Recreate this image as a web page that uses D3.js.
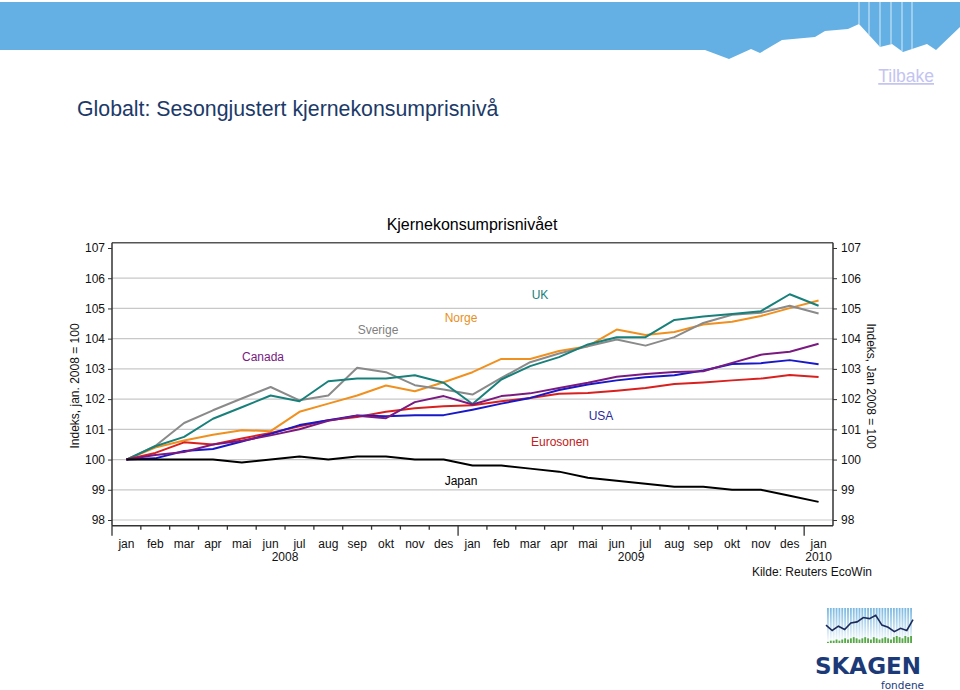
<!DOCTYPE html>
<html>
<head>
<meta charset="utf-8">
<script src="https://cdn.jsdelivr.net/npm/d3@7"></script>
<style>
  body { margin: 0; background: #fff; }
  svg { font-family: "Liberation Sans", Arial, sans-serif; }
</style>
</head>
<body>
<div id="chart"></div>
<script>
// month labels, jan 2008 .. jan 2010
const monthNames = ["jan","feb","mar","apr","mai","jun","jul","aug","sep","okt","nov","des"];
const months = monthNames.concat(monthNames, ["jan"]);
const years = [{label: "2008", at: 5.5}, {label: "2009", at: 17.5}, {label: "2010", at: 24}];
const yTicks = [98, 99, 100, 101, 102, 103, 104, 105, 106, 107];

// index, jan 2008 = 100
const japan     = [100,100,100,100,99.9,100,100.1,100,100.1,100.1,100,100,99.8,99.8,99.7,99.6,99.4,99.3,99.2,99.1,99.1,99.0,99.0,98.8,98.6];
const eurosonen = [100,100.22,100.57,100.5,100.7,100.88,101.1,101.3,101.41,101.58,101.7,101.76,101.8,101.93,102.04,102.18,102.2,102.28,102.37,102.5,102.55,102.62,102.68,102.8,102.73];
const usa       = [100,100.04,100.28,100.35,100.6,100.85,101.14,101.3,101.46,101.43,101.47,101.47,101.65,101.85,102.04,102.3,102.48,102.62,102.72,102.79,102.95,103.16,103.19,103.29,103.15];
const canada    = [100,100.15,100.25,100.5,100.62,100.8,101.0,101.28,101.45,101.37,101.9,102.1,101.82,102.1,102.19,102.37,102.54,102.74,102.83,102.9,102.92,103.2,103.47,103.57,103.83];
const uk        = [100,100.44,100.75,101.35,101.73,102.12,101.93,102.59,102.68,102.68,102.79,102.54,101.84,102.65,103.09,103.39,103.81,104.05,104.05,104.62,104.73,104.82,104.91,105.47,105.09];
const sverige   = [100,100.45,101.21,101.63,102.02,102.4,101.96,102.12,103.04,102.89,102.46,102.32,102.15,102.7,103.22,103.51,103.75,103.97,103.77,104.05,104.52,104.79,104.86,105.09,104.83];
const norge     = [100,100.4,100.63,100.82,100.97,100.94,101.58,101.85,102.12,102.45,102.26,102.56,102.89,103.33,103.33,103.59,103.75,104.3,104.12,104.22,104.47,104.56,104.75,105.01,105.26];

const series = [
  {name: "Norge",     values: norge,     color: "#f0901e", label: [461, 318], labelColor: "#e8901e"},
  {name: "Sverige",   values: sverige,   color: "#8a8a8a", label: [378, 330], labelColor: "#808080"},
  {name: "UK",        values: uk,        color: "#18807a", label: [540, 295], labelColor: "#18807a"},
  {name: "Eurosonen", values: eurosonen, color: "#d8201e", label: [560, 442], labelColor: "#c02020"},
  {name: "USA",       values: usa,       color: "#1818c8", label: [601, 416], labelColor: "#2a2a9a"},
  {name: "Canada",    values: canada,    color: "#7a1a80", label: [263, 357], labelColor: "#7a1a80"},
  {name: "Japan",     values: japan,     color: "#000000", label: [461, 481], labelColor: "#000000"}
];

// header silhouette points (decoration)
const headerEdge = [[0,50],[705,50],[729,59],[751,49],[760,53],[782,40],[815,37],[825,31],[848,29],[859,24],[880,47],[892,44],[903,52],[927,44],[936,50],[960,27]];
const headerStripes = [859, 869, 880, 891, 902, 912];

// logo decoration
const logoLine = [5.2,4.2,5.0,4.4,5.6,5.8,6.6,6.4,7.0,5.2,4.8,4.0,4.6,4.2,6.2];
const logoBars = [1,2,2,3,2,3,4,3,4,5,4,3,4,5,4,3,5,4,3,4,5,4,3,5,6,5,4,6,5,6];

const W = 960, H = 690;
const svg = d3.select("#chart").append("svg")
  .attr("width", W).attr("height", H);

// header band
svg.append("path")
  .attr("d", "M0,2 L960,2 " + headerEdge.slice().reverse().map(p => `L${p[0]},${p[1]}`).join(" ") + " Z")
  .attr("fill", "#64b0e4");
const edgeAt = d3.scaleLinear().domain(headerEdge.map(p => p[0])).range(headerEdge.map(p => p[1]));
headerStripes.forEach(hx => {
  svg.append("line").attr("x1", hx).attr("x2", hx).attr("y1", 2).attr("y2", edgeAt(hx))
    .attr("stroke", "#d8ecf8").attr("stroke-width", 1);
});

svg.append("text").attr("x", 934).attr("y", 82).attr("text-anchor", "end")
  .attr("font-size", 17.5).attr("fill", "#c4c4f0").attr("text-decoration", "underline")
  .text("Tilbake");

svg.append("text").attr("x", 77).attr("y", 116)
  .attr("font-size", 21.3).attr("fill", "#1c3a68")
  .text("Globalt: Sesongjustert kjernekonsumprisnivå");

// chart
const left = 112, right = 833;
const x = d3.scaleBand().domain(d3.range(months.length)).range([left, right]).padding(0);
const y = d3.scaleLinear().domain([98, 107]).range([520, 248]);
const plotTop = y(107.17), plotBottom = y(97.81);
const cx = i => x(i) + x.bandwidth() / 2;

svg.append("text").attr("x", 472).attr("y", 230).attr("text-anchor", "middle")
  .attr("font-size", 16).attr("fill", "#000").text("Kjernekonsumprisnivået");

// grid
svg.append("g").selectAll("line").data(yTicks.filter(d => d !== 107)).join("line")
  .attr("x1", left).attr("x2", right)
  .attr("y1", d => y(d)).attr("y2", d => y(d))
  .attr("stroke", "#c8c8c8").attr("stroke-width", 1.2);

// frame
svg.append("line").attr("x1", left).attr("x2", right).attr("y1", plotTop).attr("y2", plotTop)
  .attr("stroke", "#555").attr("stroke-width", 1.5);
svg.append("line").attr("x1", left).attr("x2", right).attr("y1", plotBottom).attr("y2", plotBottom)
  .attr("stroke", "#333").attr("stroke-width", 1.5);

// left axis
const yl = svg.append("g").attr("transform", `translate(${left},0)`)
  .call(d3.axisLeft(y).tickValues(yTicks).tickSize(4).tickPadding(3).tickFormat(d3.format("d")));
yl.select(".domain").attr("d", `M0,${plotTop}V${plotBottom}`).attr("stroke", "#333").attr("stroke-width", 1.5);
// right axis
const yr = svg.append("g").attr("transform", `translate(${right},0)`)
  .call(d3.axisRight(y).tickValues(yTicks).tickSize(4).tickPadding(4).tickFormat(d3.format("d")));
yr.select(".domain").attr("d", `M0,${plotTop}V${plotBottom}`).attr("stroke", "#333").attr("stroke-width", 1.5);
[yl, yr].forEach(g => {
  g.selectAll(".tick text").attr("font-size", 12).attr("fill", "#111")
    .attr("font-family", "Liberation Sans, Arial, sans-serif");
  g.selectAll(".tick line").attr("stroke", "#333");
});

// bottom ticks at month boundaries
const bounds = d3.range(0, months.length);
svg.append("g").selectAll("line").data(bounds).join("line")
  .attr("x1", d => x(d)).attr("x2", d => x(d))
  .attr("y1", plotBottom)
  .attr("y2", d => (d % 12 === 0) ? plotBottom + 10 : plotBottom + 4)
  .attr("stroke", "#333").attr("stroke-width", 1.3);

svg.append("g").selectAll("text").data(months).join("text")
  .attr("x", (d, i) => cx(i)).attr("y", 548)
  .attr("text-anchor", "middle").attr("font-size", 12).attr("fill", "#111")
  .text(d => d);
svg.append("g").selectAll("text").data(years).join("text")
  .attr("x", d => x(Math.floor(d.at)) + x.bandwidth() * (d.at - Math.floor(d.at) + 0.5))
  .attr("y", 561).attr("text-anchor", "middle").attr("font-size", 12).attr("fill", "#111")
  .text(d => d.label);

// axis titles
svg.append("text").attr("transform", "translate(79,386) rotate(-90)")
  .attr("text-anchor", "middle").attr("font-size", 12).attr("fill", "#111")
  .text("Indeks, jan. 2008 = 100");
svg.append("text").attr("transform", "translate(867,386) rotate(90)")
  .attr("text-anchor", "middle").attr("font-size", 12).attr("fill", "#111")
  .text("Indeks, Jan 2008 = 100");

// lines
const line = d3.line().x((d, i) => cx(i)).y(d => y(d));
svg.append("g").selectAll("path").data(series).join("path")
  .attr("d", d => line(d.values))
  .attr("fill", "none").attr("stroke", d => d.color).attr("stroke-width", 2)
  .attr("stroke-linejoin", "round");

svg.append("g").selectAll("text").data(series).join("text")
  .attr("x", d => d.label[0]).attr("y", d => d.label[1] + 4)
  .attr("text-anchor", "middle").attr("font-size", 12).attr("fill", d => d.labelColor)
  .text(d => d.name);

svg.append("text").attr("x", 872).attr("y", 576).attr("text-anchor", "end")
  .attr("font-size", 12).attr("fill", "#111").text("Kilde: Reuters EcoWin");

// logo
const logo = svg.append("g");
const lx0 = 826, lx1 = 913, ly0 = 608, ly1 = 643;
const grad = svg.append("defs").append("linearGradient").attr("id", "lg")
  .attr("x1", 0).attr("x2", 0).attr("y1", 0).attr("y2", 1);
grad.append("stop").attr("offset", "0%").attr("stop-color", "#7ab8e0");
grad.append("stop").attr("offset", "100%").attr("stop-color", "#ffffff");
const sx = d3.scaleBand().domain(d3.range(logoBars.length)).range([lx0, lx1]).padding(0.35);
logo.selectAll("rect.s").data(logoBars).join("rect").attr("class", "s")
  .attr("x", (d, i) => sx(i)).attr("width", sx.bandwidth())
  .attr("y", ly0).attr("height", ly1 - ly0).attr("fill", "url(#lg)");
const bh = d3.scaleLinear().domain([0, 6]).range([0, 7]);
logo.selectAll("rect.b").data(logoBars).join("rect").attr("class", "b")
  .attr("x", (d, i) => sx(i)).attr("width", sx.bandwidth())
  .attr("y", d => ly1 - bh(d)).attr("height", d => bh(d)).attr("fill", "#58a848");
const llx = d3.scaleLinear().domain([0, logoLine.length - 1]).range([lx0, lx1]);
const lly = d3.scaleLinear().domain([3, 8]).range([ly1 - 6, ly0 + 2]);
logo.append("path").attr("d", d3.line().x((d, i) => llx(i)).y(d => lly(d))(logoLine))
  .attr("fill", "none").attr("stroke", "#1c2a5a").attr("stroke-width", 1.6);
logo.append("text").attr("x", 868).attr("y", 674).attr("text-anchor", "middle")
  .attr("font-size", 23).attr("font-weight", "bold").attr("fill", "#1c3a78")
  .attr("font-family", "DejaVu Sans, sans-serif")
  .text("SKAGEN");
logo.append("text").attr("x", 924).attr("y", 689).attr("text-anchor", "end")
  .attr("font-size", 10.5).attr("fill", "#1c3a78").attr("font-family", "DejaVu Sans, sans-serif")
  .text("fondene");
</script>
</body>
</html>
